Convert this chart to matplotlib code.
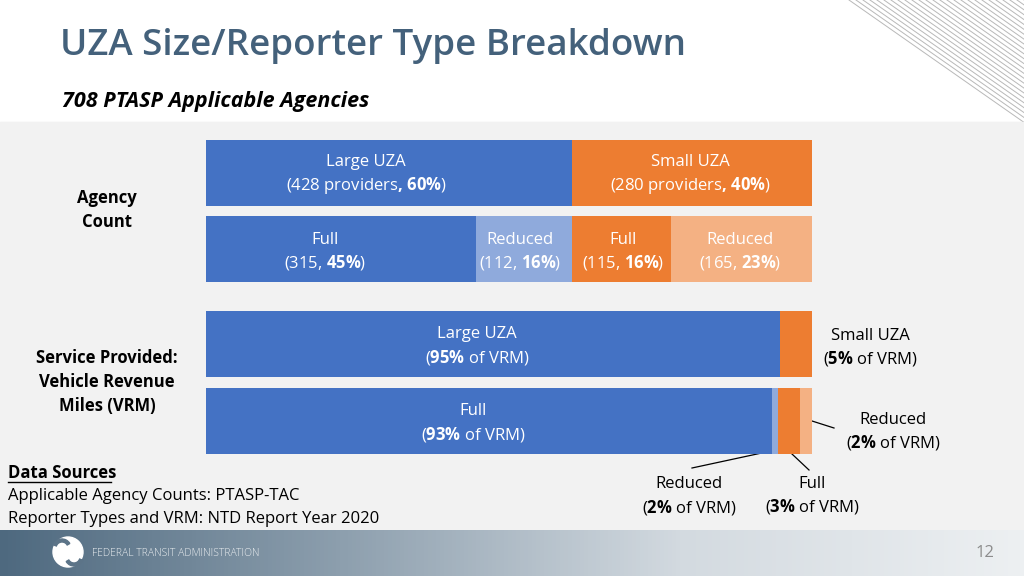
import numpy as np
import matplotlib.pyplot as plt
from matplotlib.patches import Rectangle, Circle, Wedge
from matplotlib.colors import LinearSegmentedColormap

plt.rcParams['font.family'] = ['Open Sans', 'DejaVu Sans']
plt.rcParams['mathtext.fontset'] = 'custom'
plt.rcParams['mathtext.rm'] = 'Open Sans'
plt.rcParams['mathtext.bf'] = 'Open Sans:bold'

# agency counts
uza_sizes = ['Large UZA', 'Small UZA']
uza_providers = [428, 280]
uza_pct = [60, 40]
reporter_types = ['Full', 'Reduced', 'Full', 'Reduced']
reporter_counts = [315, 112, 115, 165]
reporter_pct = [45, 16, 16, 23]

# vehicle revenue miles (share of VRM)
vrm_uza = [94.7, 5.3]
vrm_uza_labels = [95, 5]
vrm_type = [93.4, 1.0, 3.6, 2.0]
vrm_type_labels = [93, 2, 3, 2]

BLUE = '#4472C4'
LBLUE = '#8FAADC'
ORANGE = '#ED7D31'
LORANGE = '#F4B183'

fig = plt.figure(figsize=(10.24, 5.76), dpi=100)
bg = fig.add_axes([0, 0, 1, 1])
bg.axis('off')

# slide background
bg.add_patch(Rectangle((0, 0), 1024, 122, color='white', zorder=0))
bg.add_patch(Rectangle((0, 122), 1024, 408, color='#F2F2F2', zorder=0))
grad = np.linspace(0, 1, 256).reshape(1, -1)
cm = LinearSegmentedColormap.from_list('ft', ['#4E697F', '#8D9FAE', '#D3DAE0', '#EDF0F2'])
bg.imshow(grad, extent=(0, 1024, 576, 530), cmap=cm, aspect='auto', zorder=0)
bg.set_xlim(0, 1024)
bg.set_ylim(576, 0)

# diagonal lines top right
for i in range(26):
    x0 = 849 + i * 7
    bg.plot([x0, x0 + 1.43 * 122], [0, 122], color='#B8B8B8', lw=0.7, zorder=1)
bg.add_patch(Rectangle((0, 122), 1024, 10, color='#F2F2F2', zorder=1.5))

bg.text(60, 46, 'UZA Size/Reporter Type Breakdown', fontsize=26.5, color='#44617B',
        fontweight='semibold', va='center', ha='left')
bg.text(62, 102, '708 PTASP Applicable Agencies', fontsize=15.5, fontweight='bold',
        fontstyle='italic', va='center', ha='left', color='black')

bg.text(107, 210, 'Agency\nCount', fontsize=12, fontweight='bold', ha='center',
        va='center', linespacing=1.45)
bg.text(107, 382, 'Service Provided:\nVehicle Revenue\nMiles (VRM)', fontsize=12,
        fontweight='bold', ha='center', va='center', linespacing=1.45)

bg.text(8, 473, 'Data Sources', fontsize=12, fontweight='bold', va='center', ha='left')
bg.plot([8, 111], [482, 482], color='black', lw=1)
bg.text(8, 496, 'Applicable Agency Counts: PTASP-TAC', fontsize=12, va='center', ha='left')
bg.text(8, 519, 'Reporter Types and VRM: NTD Report Year 2020', fontsize=12, va='center', ha='left')

# footer
bg.add_patch(Circle((68, 552), 15, color='white', zorder=2))
bg.add_patch(Wedge((62, 548), 9, 200, 330, width=3, color='#5C7488', zorder=3))
bg.add_patch(Wedge((74, 557), 9, 20, 150, width=3, color='#5C7488', zorder=3))
bg.text(92, 553, 'FEDERAL TRANSIT ADMINISTRATION', fontsize=7.5, color='#E8ECEF',
        va='center', ha='left', fontweight='light', zorder=3)
bg.text(985, 553, '12', fontsize=12, color='#8C8C8C', va='center', ha='center', zorder=3)

# bar axes: x is percent, y in slide pixel rows
ax = fig.add_axes([206 / 1024, (576 - 460) / 576, 606 / 1024, 330 / 576])
ax.set_xlim(0, 100)
ax.set_ylim(460, 130)
ax.axis('off')
ax.patch.set_alpha(0)

rows = [173, 249, 344, 420.5]
h = 66

w1 = [v / sum(uza_providers) * 100 for v in uza_providers]
ax.barh(rows[0], w1, left=np.cumsum([0] + w1[:-1]), height=h, color=[BLUE, ORANGE])
w2 = [v / sum(reporter_counts) * 100 for v in reporter_counts]
ax.barh(rows[1], w2, left=np.cumsum([0] + w2[:-1]), height=h,
        color=[BLUE, LBLUE, ORANGE, LORANGE])
ax.barh(rows[2], vrm_uza, left=np.cumsum([0] + vrm_uza[:-1]), height=h, color=[BLUE, ORANGE])
ax.barh(rows[3], vrm_type, left=np.cumsum([0] + vrm_type[:-1]), height=h,
        color=[BLUE, LBLUE, ORANGE, LORANGE])


def two_lines(a, x, y, top, bottom, color='white'):
    a.text(x, y - 11.5, top, color=color, fontsize=12, ha='center', va='center_baseline')
    a.text(x, y + 11.5, bottom, color=color, fontsize=12, ha='center', va='center_baseline')


lx1 = [26.4, 79.9]
for x, name, n, p in zip(lx1, uza_sizes, uza_providers, uza_pct):
    two_lines(ax, x, rows[0] - 1.5, name, '(%d providers$\\mathbf{,}$ $\\mathbf{%d\\%%}$)' % (n, p))
lx2 = [19.6, 51.8, 68.8, 88.1]
for x, name, n, p in zip(lx2, reporter_types, reporter_counts, reporter_pct):
    two_lines(ax, x, rows[1], name, '(%d, $\\mathbf{%d\\%%}$)' % (n, p))
two_lines(ax, 44.7, rows[2], 'Large UZA', '($\\mathbf{%d\\%%}$ of VRM)' % vrm_uza_labels[0])
two_lines(ax, 44.1, rows[3], 'Full', '($\\mathbf{%d\\%%}$ of VRM)' % vrm_type_labels[0])

# outside labels
two_lines(bg, 870, 345, 'Small UZA', '($\\mathbf{%d\\%%}$ of VRM)' % vrm_uza_labels[1], 'black')
two_lines(bg, 893, 429, 'Reduced', '($\\mathbf{%d\\%%}$ of VRM)' % vrm_type_labels[3], 'black')
two_lines(bg, 689, 494, 'Reduced', '($\\mathbf{%d\\%%}$ of VRM)' % vrm_type_labels[1], 'black')
two_lines(bg, 812, 493, 'Full', '($\\mathbf{%d\\%%}$ of VRM)' % vrm_type_labels[2], 'black')
bg.plot([812, 834], [421, 428], color='black', lw=0.9)
bg.plot([771, 692], [451, 468], color='black', lw=0.9)
bg.plot([792, 809], [454, 470], color='black', lw=0.9)

fig.savefig('out.png', dpi=100)
